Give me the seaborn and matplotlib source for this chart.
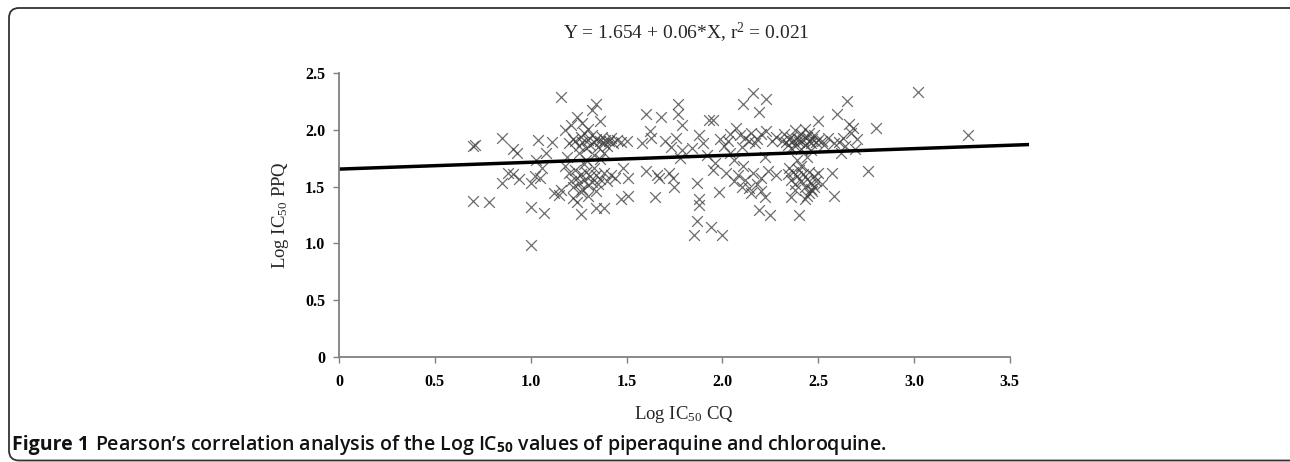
# Pearson correlation, Log IC50 PPQ vs Log IC50 CQ

import numpy as np
import pandas as pd
import matplotlib
matplotlib.use("Agg")
import matplotlib.pyplot as plt
import seaborn as sns
from matplotlib.patches import FancyBboxPatch

# ==========================================================
# DATA
# ==========================================================

cq_log = [
    # low CQ
    0.70, 0.71, 0.70, 0.78, 0.85, 0.85, 0.91, 0.93, 0.91, 0.94, 1.00, 1.00,
    1.00, 1.04, 1.03, 1.02, 1.07, 1.05, 1.11, 1.08, 1.12, 1.15, 0.88, 1.06,
    # cluster ~1.3 upper
    1.16, 1.24, 1.32, 1.34, 1.20, 1.22, 1.23, 1.25, 1.26, 1.27, 1.28, 1.29,
    1.30, 1.31, 1.32, 1.33, 1.34, 1.35, 1.36, 1.37, 1.38, 1.39, 1.40, 1.41,
    1.42, 1.43, 1.45, 1.47, 1.50, 1.18, 1.21, 1.27, 1.30, 1.36, 1.25, 1.33,
    1.38, 1.19, 1.29, 1.36,
    # cluster ~1.3 lower
    1.20, 1.21, 1.22, 1.23, 1.24, 1.25, 1.26, 1.27, 1.28, 1.29, 1.30, 1.31,
    1.32, 1.33, 1.34, 1.35, 1.36, 1.38, 1.40, 1.42, 1.44, 1.26, 1.30, 1.22,
    1.34, 1.26, 1.34, 1.38, 1.48, 1.51, 1.47, 1.51, 1.18, 1.28, 1.24, 1.16,
    # 1.55 - 1.8
    1.60, 1.62, 1.60, 1.65, 1.66, 1.68, 1.67, 1.74, 1.58, 1.63, 1.70, 1.73,
    1.77, 1.77, 1.76, 1.79, 1.79, 1.72, 1.78, 1.75,
    # 1.85 - 2.3
    1.87, 1.88, 1.88, 1.87, 1.94, 1.85, 2.00, 1.98, 1.88, 1.93, 1.95, 1.96,
    1.99, 2.03, 2.07, 2.11, 2.16, 2.23, 2.19, 2.09, 2.14, 2.20, 2.23, 2.06,
    2.06, 2.11, 2.14, 2.20, 2.22, 2.19, 2.25, 2.24, 2.28, 1.90, 1.92, 1.84,
    2.01, 2.04, 2.10, 2.12, 2.15, 2.17, 2.18, 2.26, 2.28, 2.02, 2.08, 2.12,
    2.16, 2.18, 2.10, 2.15, 2.20, 1.95, 2.04, 2.22,
    # cluster ~2.4 upper
    2.32, 2.35, 2.33, 2.34, 2.36, 2.37, 2.38, 2.39, 2.40, 2.41, 2.42, 2.43,
    2.44, 2.45, 2.46, 2.47, 2.48, 2.49, 2.50, 2.52, 2.53, 2.55, 2.36, 2.41,
    2.46, 2.50, 2.39, 2.44, 2.38, 2.43, 2.31, 2.40, 2.45,
    # cluster ~2.4 lower
    2.34, 2.36, 2.37, 2.38, 2.39, 2.40, 2.41, 2.42, 2.43, 2.44, 2.45, 2.46,
    2.47, 2.48, 2.49, 2.50, 2.43, 2.36, 2.40, 2.45, 2.52, 2.41, 2.46, 2.38,
    2.44, 2.48, 2.35,
    # high CQ
    2.57, 2.58, 2.60, 2.65, 2.66, 2.61, 2.70, 2.69, 2.76, 2.80, 3.02, 3.28,
    2.63, 2.64, 2.67, 2.62, 2.68, 2.58,
]

ppq_log = [
    # low CQ
    1.86, 1.87, 1.37, 1.36, 1.93, 1.53, 1.83, 1.80, 1.61, 1.57, 1.53, 1.32,
    0.99, 1.91, 1.73, 1.59, 1.27, 1.58, 1.89, 1.80, 1.44, 1.43, 1.62, 1.66,
    # cluster ~1.3 upper
    2.29, 2.11, 2.17, 2.23, 1.88, 1.92, 1.90, 1.86, 1.94, 1.89, 1.97, 1.84,
    1.91, 1.87, 1.95, 1.89, 1.92, 1.85, 1.90, 1.94, 1.88, 1.91, 1.86, 1.90,
    1.93, 1.88, 1.91, 1.89, 1.90, 2.00, 2.04, 2.06, 2.01, 2.08, 1.80, 1.78,
    1.80, 1.76, 1.73, 1.74,
    # cluster ~1.3 lower
    1.62, 1.55, 1.50, 1.65, 1.58, 1.53, 1.61, 1.48, 1.56, 1.63, 1.51, 1.59,
    1.54, 1.66, 1.60, 1.52, 1.57, 1.62, 1.55, 1.60, 1.58, 1.45, 1.42, 1.40,
    1.46, 1.26, 1.31, 1.31, 1.66, 1.58, 1.39, 1.42, 1.68, 1.70, 1.36, 1.47,
    # 1.55 - 1.8
    2.14, 1.99, 1.64, 1.41, 1.60, 2.11, 1.58, 1.58, 1.88, 1.93, 1.90, 1.85,
    2.23, 2.14, 1.93, 2.04, 1.82, 1.62, 1.75, 1.50,
    # 1.85 - 2.3
    1.53, 1.39, 1.34, 1.20, 1.14, 1.07, 1.07, 1.45, 1.95, 2.09, 2.09, 1.71,
    1.92, 1.90, 2.02, 2.23, 2.32, 2.27, 2.16, 1.95, 1.90, 1.96, 1.99, 1.73,
    1.55, 1.68, 1.49, 1.46, 1.41, 1.29, 1.25, 1.64, 1.60, 1.88, 1.78, 1.84,
    1.86, 1.96, 1.85, 1.93, 1.97, 1.88, 1.92, 1.90, 1.94, 1.62, 1.60, 1.56,
    1.62, 1.52, 1.50, 1.44, 1.58, 1.65, 1.80, 1.76,
    # cluster ~2.4 upper
    1.96, 1.92, 1.89, 1.87, 1.94, 1.90, 1.86, 1.93, 1.89, 1.96, 1.91, 1.87,
    1.94, 1.90, 1.88, 1.92, 1.95, 1.89, 1.91, 1.90, 1.87, 1.93, 1.84, 1.83,
    1.82, 2.08, 1.73, 1.76, 2.00, 2.01, 1.90, 1.92, 1.97,
    # cluster ~2.4 lower
    1.61, 1.56, 1.63, 1.52, 1.59, 1.65, 1.55, 1.61, 1.50, 1.57, 1.63, 1.53,
    1.46, 1.59, 1.55, 1.62, 1.39, 1.41, 1.25, 1.44, 1.52, 1.68, 1.48, 1.47,
    1.42, 1.50, 1.66,
    # high CQ
    1.62, 1.42, 2.14, 2.25, 2.05, 1.89, 1.92, 1.83, 1.64, 2.02, 2.33, 1.95,
    1.93, 1.86, 1.97, 1.80, 2.02, 1.88,
]

# regression
intercept = 1.654
slope = 0.06
line_x = [0.0, 3.6]

x_ticks = [0, 0.5, 1.0, 1.5, 2.0, 2.5, 3.0, 3.5]
x_tick_labels = ["0", "0.5", "1.0", "1.5", "2.0", "2.5", "3.0", "3.5"]
y_ticks = [0, 0.5, 1.0, 1.5, 2.0, 2.5]
y_tick_labels = ["0", "0.5", "1.0", "1.5", "2.0", "2.5"]

df = pd.DataFrame({"CQ": cq_log, "PPQ": ppq_log})

line_df = pd.DataFrame({"x": line_x})
line_df["y"] = intercept + slope * line_df["x"]

# ==========================================================
# STYLE
# ==========================================================

sns.set_style("white")
plt.rcParams["font.family"] = ["Liberation Serif", "DejaVu Serif"]
plt.rcParams["mathtext.fontset"] = "custom"
plt.rcParams["mathtext.rm"] = "Liberation Serif"
plt.rcParams["mathtext.it"] = "Liberation Serif:italic"
plt.rcParams["mathtext.sf"] = "Open Sans:bold"

fig = plt.figure(figsize=(12.9, 4.62), dpi=100)
ax = fig.add_axes([0.2628, 0.2273, 0.5349, 0.6147])

# ==========================================================
# PLOT
# ==========================================================

sns.scatterplot(
    data=df,
    x="CQ",
    y="PPQ",
    marker="x",
    s=60,
    color="#3c3c3c",
    linewidth=0.9,
    alpha=0.75,
    ax=ax
)

sns.lineplot(
    data=line_df,
    x="x",
    y="y",
    color="black",
    linewidth=2.5,
    ax=ax
)

ax.set_xlim(0, 3.6)
ax.set_ylim(0, 2.5)

ax.set_xticks(x_ticks)
ax.set_xticklabels(x_tick_labels, fontweight="bold", fontsize=11.5)
ax.set_yticks(y_ticks)
ax.set_yticklabels(y_tick_labels, fontweight="bold", fontsize=11.5)

ax.tick_params(
    axis="both",
    direction="out",
    length=4,
    width=1.0,
    color="#808080",
    labelcolor="black",
    pad=6,
    bottom=True,
    left=True
)
ax.tick_params(axis="x", pad=8)

for side in ["top", "right"]:
    ax.spines[side].set_visible(False)

for side in ["left", "bottom"]:
    ax.spines[side].set_color("#808080")
    ax.spines[side].set_linewidth(1.3)

ax.spines["bottom"].set_bounds(0, 3.5)

ax.set_xlabel(r"Log IC$_{50}$ CQ", fontsize=13.5, labelpad=10)
ax.set_ylabel(r"Log IC$_{50}$ PPQ", fontsize=13.5, labelpad=10)

fig.text(
    0.532, 0.929,
    r"Y = 1.654 + 0.06*X, r$^{2}$ = 0.021",
    ha="center",
    va="center",
    fontsize=14
)

# ==========================================================
# CAPTION AND FRAME
# ==========================================================

cap_y = 0.036

cap1 = fig.text(
    0.0093, cap_y,
    "Figure 1",
    family="Open Sans",
    fontweight="bold",
    fontsize=14,
    va="center",
    color="#111111"
)

renderer = fig.canvas.get_renderer()
bb = cap1.get_window_extent(renderer=renderer)

fig.text(
    (bb.x1 + 6) / fig.bbox.width, cap_y,
    r"Pearson’s correlation analysis of the Log IC$_{\mathsf{50}}$ values of piperaquine and chloroquine.",
    family="Open Sans",
    fontweight="semibold",
    fontsize=14,
    va="center",
    color="#111111"
)

frame = FancyBboxPatch(
    (0.09, 0.015),
    13.3,
    4.525,
    boxstyle="round,pad=0,rounding_size=0.1",
    transform=fig.dpi_scale_trans,
    facecolor="none",
    edgecolor="#333333",
    linewidth=1.3
)
fig.patches.append(frame)

plt.savefig("out.png", dpi=100)
